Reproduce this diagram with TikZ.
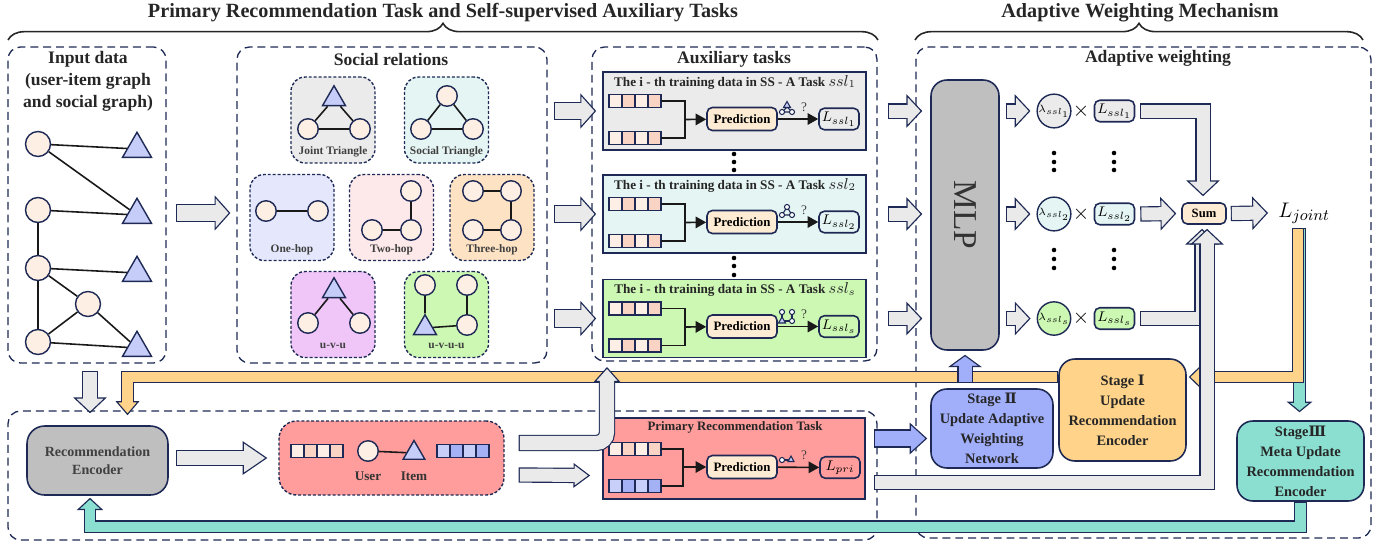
\documentclass[tikz,border=0pt]{standalone}
\usepackage{fontspec}
\setmainfont{Liberation Serif}
\newfontfamily\romfont{DejaVu Serif}
\usetikzlibrary{arrows.meta, shapes.geometric, decorations.pathreplacing, positioning, calc}

\definecolor{navy}{HTML}{1E2A55}
\definecolor{arrgray}{HTML}{EAEAEA}
\definecolor{mlpgray}{HTML}{BFBFBF}
\definecolor{taskgray}{HTML}{EBEBEB}
\definecolor{stcyan}{HTML}{E5F5F3}
\definecolor{ohblue}{HTML}{E5E8FC}
\definecolor{twpink}{HTML}{FDE8EA}
\definecolor{thorange}{HTML}{FDE3C4}
\definecolor{uvuviolet}{HTML}{F0C6F8}
\definecolor{uvuugreen}{HTML}{CDF8B3}
\definecolor{userfill}{HTML}{FDEFE3}
\definecolor{itemfill}{HTML}{C5CDF8}
\definecolor{barpeach}{HTML}{FDEEE6}
\definecolor{barpeachd}{HTML}{F9D3C3}
\definecolor{barblue}{HTML}{C8CFF8}
\definecolor{barblued}{HTML}{A5B1F5}
\definecolor{predfill}{HTML}{FDEBD3}
\definecolor{prired}{HTML}{FF9C9C}
\definecolor{stageblue}{HTML}{A1AEFA}
\definecolor{stageorange}{HTML}{FFD48A}
\definecolor{stageteal}{HTML}{8ADFD0}

\tikzset{
  outerbox/.style={draw=navy, line width=0.75pt, dash pattern=on 4.5pt off 2.8pt, rounded corners=7pt},
  relbox/.style={draw=navy, line width=0.8pt, dash pattern=on 1.7pt off 1.1pt, rounded corners=8pt, minimum width=1.68cm, minimum height=1.72cm},
  user/.style={circle, draw=navy, fill=userfill, line width=0.8pt, minimum size=0.5cm, inner sep=0pt},
  suser/.style={user, minimum size=0.41cm},
  item/.style={regular polygon, regular polygon sides=3, draw=navy, fill=itemfill, line width=0.8pt, minimum size=0.67cm, inner sep=0pt},
  sitem/.style={item, minimum size=0.53cm},
  gedge/.style={line width=0.9pt, black!90},
  bracket/.style={decorate, decoration={brace, amplitude=9.5pt}, line width=0.9pt, black!85},
  headtxt/.style={font=\fontsize{11.5}{13}\selectfont\bfseries, text=black!85},
  boxtitle/.style={font=\fontsize{10}{12.5}\selectfont\bfseries, text=black!85, align=center},
  rellabel/.style={font=\fontsize{6.5}{7}\selectfont\bfseries, text=black!75},
  taskbox/.style={draw=navy, line width=1pt, minimum width=5.26cm, minimum height=1.56cm},
  tasktitle/.style={font=\fontsize{7.5}{8}\selectfont\bfseries, text=black!85},
  predbox/.style={draw=navy, fill=predfill, line width=0.9pt, rounded corners=3pt, minimum width=1.4cm, minimum height=0.46cm, inner sep=0pt, font=\fontsize{7.3}{8}\selectfont\bfseries},
  lossbox/.style={draw=navy, line width=0.9pt, rounded corners=3pt, minimum width=0.8cm, minimum height=0.43cm, inner sep=0pt, font=\fontsize{8}{9}\selectfont},
  lamb/.style={circle, draw=navy, line width=0.8pt, minimum size=0.5cm, inner sep=0pt, font=\fontsize{6.5}{7}\selectfont},
  stagebox/.style={draw=navy, line width=0.9pt, rounded corners=9pt, align=center, inner sep=0pt, font=\fontsize{8.2}{11.4}\selectfont\bfseries, text=black!85},
  qmark/.style={font=\fontsize{7.5}{8}\selectfont, text=black!75},
  conn/.style={line width=0.9pt, black!90},
  connarr/.style={conn, -{Triangle[width=6.5pt, length=6pt]}},
}

% four-cell embedding bar: name, left x, centre y, two fills
\newcommand{\embbar}[5]{%
  \foreach \k/\fc in {0/#4,1/#5,2/#4,3/#5}
    \draw[navy, line width=0.7pt, fill=\fc] (#2+13*\k,#3-6.5) rectangle ++(13,13);
  \coordinate (#1) at (#2+52,#3);
}
% outlined block arrow: fill, shaft width, head width, head length, path
\newcommand{\blockarrow}[5]{%
  \draw[navy, line width=#2+1.3pt, -{Triangle[width=#3, length=#4, fill=#1, line width=0.65pt]}] #5;
  \draw[#1, line width=#2, shorten >=#4-1pt, shorten <=0.65pt] #5;
}

\begin{document}
\begin{tikzpicture}[x=0.02cm, y=-0.02cm]
\useasboundingbox (0,0) rectangle (1391,545);

% headers
\node[headtxt] (headL) at (443,13) {Primary Recommendation Task and Self-supervised Auxiliary Tasks};
\node[headtxt] (headR) at (1140,13) {Adaptive Weighting Mechanism};
\draw[bracket] (8,40) -- (878,40);
\draw[bracket] (915,40) -- (1363,40);

% dashed frames
\node[outerbox, minimum width=3.16cm, minimum height=6.32cm] (inbox) at (87,205) {};
\node[outerbox, minimum width=6.2cm, minimum height=6.32cm] (socbox) at (392,205) {};
\node[outerbox, minimum width=5.7cm, minimum height=6.28cm] (auxbox) at (734.5,204) {};
\node[outerbox, minimum width=9.1cm, minimum height=9.82cm] (adabox) at (1143.5,292.5) {};
\node[outerbox, minimum width=17.38cm, minimum height=2.58cm] (botbox) at (442.5,475.5) {};

\node[boxtitle] (intitle) at (88,81.5) {Input data\\(user-item graph\\and social graph)};
\node[boxtitle] (soctitle) at (391,59) {Social relations};
\node[boxtitle] (auxtitle) at (734,59) {Auxiliary tasks};
\node[boxtitle] (adatitle) at (1158,58) {Adaptive weighting};

% input graph
\node[user] (u1) at (38,144) {};
\node[user] (u2) at (38,210) {};
\node[user] (u3) at (38,268) {};
\node[user] (u4) at (88,304) {};
\node[user] (u5) at (38,342) {};
\node[item] (t1) at (137,149) {};
\node[item] (t2) at (137,215) {};
\node[item] (t3) at (137,273) {};
\node[item] (t4) at (137,348) {};
\draw[gedge] (u1)--(t1) (u1)--(t2) (u2)--(t2) (u2)--(u3) (u3)--(t3) (u3)--(u4)
  (u3)--(u5) (u4)--(u5) (u4)--(t4) (u5)--(t4);

% social relations
\node[relbox, fill=taskgray] (jt) at (333,120) {};
\node[sitem] (jta) at (334,99) {};
\node[suser] (jtb) at (308,129) {};
\node[suser] (jtc) at (360,129) {};
\draw[gedge] (jta)--(jtb) (jta)--(jtc) (jtb)--(jtc);
\node[rellabel] (jtlab) at (333,152) {Joint Triangle};

\node[relbox, fill=stcyan] (st) at (446.5,120) {};
\node[suser] (sta) at (447,96) {};
\node[suser] (stb) at (421,129) {};
\node[suser] (stc) at (473,129) {};
\draw[gedge] (sta)--(stb) (sta)--(stc) (stb)--(stc);
\node[rellabel] (stlab) at (446.5,152) {Social Triangle};

\node[relbox, fill=ohblue] (oh) at (292,217.5) {};
\node[suser] (oha) at (266,211) {};
\node[suser] (ohb) at (318,211) {};
\draw[gedge] (oha)--(ohb);
\node[rellabel] (ohlab) at (292,250) {One-hop};

\node[relbox, fill=twpink] (tw) at (391.5,217.5) {};
\node[suser] (twa) at (411,191) {};
\node[suser] (twb) at (411,230) {};
\node[suser] (twc) at (372,230) {};
\draw[gedge] (twa)--(twb) (twb)--(twc);
\node[rellabel] (twlab) at (391.5,250) {Two-hop};

\node[relbox, fill=thorange] (th) at (492,217.5) {};
\node[suser] (tha) at (473,191) {};
\node[suser] (thb) at (511,191) {};
\node[suser] (thc) at (511,230) {};
\node[suser] (thd) at (473,230) {};
\draw[gedge] (tha)--(thb) (thb)--(thc) (thc)--(thd);
\node[rellabel] (thlab) at (492,250) {Three-hop};

\node[relbox, fill=uvuviolet] (uvu) at (333,314.5) {};
\node[sitem] (uvua) at (334,291) {};
\node[suser] (uvub) at (308,323) {};
\node[suser] (uvuc) at (360,323) {};
\draw[gedge] (uvua)--(uvub) (uvua)--(uvuc);
\node[rellabel] (uvulab) at (333,346) {u-v-u};

\node[relbox, fill=uvuugreen] (uvuu) at (446.5,314.5) {};
\node[suser] (uvuua) at (425,285) {};
\node[suser] (uvuub) at (467,285) {};
\node[suser] (uvuuc) at (467,325) {};
\node[sitem] (uvuud) at (425,328) {};
\draw[gedge] (uvuua)--(uvuud) (uvuud)--(uvuuc) (uvuuc)--(uvuub);
\node[rellabel] (uvuulab) at (446.5,346) {u-v-u-u};

% auxiliary tasks
\foreach \i/\dy/\col/\s in {1/0/taskgray/1, 2/103/stcyan/2, 3/207.5/uvuugreen/s}{
\begin{scope}[shift={(0,\dy)}]
\node[taskbox, fill=\col] (task\i) at (734.5,111) {};
\node[tasktitle] (tt\i) at (735,82) {The i - th training data in SS - A Task {\fontsize{9}{9}\selectfont$ssl_{\s}$}};
\embbar{ea\i}{609}{101}{barpeach}{barpeachd}
\embbar{eb\i}{609}{138}{barpeach}{barpeachd}
\coordinate (ej\i) at (685,119.5);
\node[predbox] (pred\i) at (742,119) {Prediction};
\node[lossbox, fill=\col] (loss\i) at (839,119) {$L_{ssl_{\s}}$};
\draw[conn] (ea\i) -| (ej\i) |- (eb\i);
\draw[connarr] (ej\i) -- (pred\i);
\draw[connarr] (pred\i) -- (loss\i);
\node[qmark] (q\i) at (804,107) {?};
\end{scope}
}
% small pattern icons
\draw[navy, line width=0.6pt] (787,107) -- (782,112) (787,107) -- (792,112) (782,112) -- (792,112);
\draw[navy, line width=0.6pt, fill=itemfill] (787,101.5) -- (783.5,107.5) -- (790.5,107.5) -- cycle;
\draw[navy, line width=0.6pt, fill=white] (782,112) circle (1.45pt) (792,112) circle (1.45pt);
\draw[navy, line width=0.6pt] (787,207) -- (782,215) -- (792,215) -- cycle;
\draw[navy, line width=0.6pt, fill=white] (787,207) circle (1.45pt) (782,215) circle (1.45pt) (792,215) circle (1.45pt);
\draw[navy, line width=0.6pt] (782,312) -- (782,321) -- (792,321) -- (792,312);
\draw[navy, line width=0.6pt, fill=white] (782,312) circle (1.45pt) (792,312) circle (1.45pt) (792,321) circle (1.45pt);
\draw[navy, line width=0.6pt, fill=itemfill] (782,317) -- (778.5,323) -- (785.5,323) -- cycle;
\foreach \y in {154,162,170,258,266,275} \fill (734,\y) circle (1.3pt);

% adaptive weighting
\node[draw=navy, fill=mlpgray, line width=0.9pt, rounded corners=9pt, minimum width=1.36cm, minimum height=5.4cm] (mlp) at (965,215) {};
\node[rotate=-90, font=\fontsize{19}{19}\selectfont, text=black!80] (mlptxt) at (965,215) {MLP};
\node[predbox, minimum width=0.88cm, minimum height=0.42cm, font=\fontsize{7.2}{8}\selectfont\bfseries] (sum) at (1204,213.5) {Sum};
\node[anchor=west, inner sep=0pt, font=\fontsize{12.5}{13}\selectfont] (ljoint) at (1278,213) {$L_{joint}$};
\coordinate (jfork) at (1298,228);

\foreach \i/\y/\col/\s in {1/111/taskgray/1, 2/214/stcyan/2, 3/318.5/uvuugreen/s}{
\node[lamb, fill=\col] (lam\i) at (1054,\y) {$\lambda_{ssl_{\s}}$};
\node[font=\fontsize{12}{12}\selectfont] (times\i) at (1081,\y) {$\times$};
\node[lossbox, fill=\col] (w\i) at (1114.5,\y) {$L_{ssl_{\s}}$};
\blockarrow{arrgray}{9.5pt}{20pt}{9pt}{($(socbox.east |- task\i.west)+(6,0)$) -- ($(task\i.west)+(-6,0)$)}
\blockarrow{arrgray}{7.4pt}{19pt}{9pt}{($(auxbox.east |- task\i.west)+(10,0)$) -- ($(mlp.west |- task\i.west)+(-8,0)$)}
\blockarrow{arrgray}{7.4pt}{19pt}{9pt}{($(mlp.east |- lam\i.west)+(6,0)$) -- ($(lam\i.west)+(-6,0)$)}
}
\foreach \x in {1054,1114} \foreach \y in {153,162,170,250,259,268} \fill (\x,\y) circle (1.3pt);

\blockarrow{arrgray}{9.5pt}{20pt}{9pt}{($(inbox.east)+(9,8)$) -- ($(socbox.west)+(-6,8)$)}
\blockarrow{arrgray}{7.4pt}{19pt}{9pt}{($(w2.east)+(5,0)$) -- ($(sum.west)+(-5,0)$)}
\blockarrow{arrgray}{7.4pt}{19pt}{9pt}{($(w1.east)+(5,0)$) -| ($(sum.north)+(-1,-6)$)}
\blockarrow{arrgray}{7.4pt}{19pt}{9pt}{($(sum.east)+(4,0)$) -- ($(ljoint.west)+(-10,0)$)}

% bottom part
\node[stagebox, fill=mlpgray, minimum width=2.82cm, minimum height=1.38cm, rounded corners=10pt, text=black!75, font=\fontsize{8}{10.2}\selectfont\bfseries] (recenc) at (97.5,460.5) {Recommendation\\Encoder};
\node[relbox, fill=prired, minimum width=4.5cm, minimum height=1.48cm, rounded corners=10pt] (emb) at (391.5,458) {};
\embbar{ua}{291}{451}{barpeach}{barpeachd}
\node[suser] (eu) at (368,451) {};
\node[sitem, minimum size=0.5cm] (ei) at (414,453) {};
\draw[gedge] (eu) -- (ei);
\embbar{ub}{437}{451}{barblue}{barblued}
\node[font=\fontsize{7.5}{8}\selectfont\bfseries, text=black!80] (eulab) at (368,476) {User};
\node[font=\fontsize{7.5}{8}\selectfont\bfseries, text=black!80] (eilab) at (414,476) {Item};

\node[taskbox, fill=prired, minimum width=5.24cm, minimum height=1.62cm] (pri) at (734,458.5) {};
\node[tasktitle, font=\fontsize{7.3}{8}\selectfont\bfseries] (pritt) at (735,427) {Primary Recommendation Task};
\embbar{pa}{609}{449}{barpeach}{barpeachd}
\embbar{pb}{609}{486}{barblue}{barblued}
\coordinate (pj) at (683,467);
\node[predbox] (ppred) at (742,467) {Prediction};
\node[lossbox, fill=prired] (lpri) at (840,467.5) {$L_{pri}$};
\draw[conn] (pa) -| (pj) |- (pb);
\draw[connarr] (pj) -- (ppred);
\draw[connarr] (ppred) -- (lpri);
\node[qmark] (qp) at (804,455) {?};
\draw[navy, line width=0.6pt] (782,460) -- (791,460);
\draw[navy, line width=0.6pt, fill=white] (782,460) circle (1.45pt);
\draw[navy, line width=0.6pt, fill=itemfill] (791,456) -- (788,461.5) -- (794,461.5) -- cycle;

\node[stagebox, fill=stageblue, minimum width=2.44cm, minimum height=1.58cm] (stage2) at (992,428.5) {Stage {\romfont Ⅱ}\\Update Adaptive\\Weighting\\Network};
\node[stagebox, fill=stageorange, minimum width=2.54cm, minimum height=2.04cm] (stage1) at (1122.5,410) {Stage {\romfont Ⅰ}\\Update\\Recommendation\\Encoder};
\node[stagebox, fill=stageteal, minimum width=2.54cm, minimum height=1.6cm] (stage3) at (1300.5,461) {Stage{\romfont Ⅲ}\\Meta Update\\Recommendation\\Encoder};
\coordinate (auxin) at (607,367);

% feedback arrows
\blockarrow{stageteal}{6pt}{14.5pt}{6pt}{($(jfork)+(1.5,0)$) -- ($(stage3.north -| jfork)+(1.5,-8)$)}
\blockarrow{stageorange}{5.7pt}{13.5pt}{7pt}{(jfork) |- ($(stage1.east)+(2,-33)$)}
\blockarrow{stageorange}{5.7pt}{13.5pt}{8pt}{($(stage1.west)+(0,-33)$) -| ($(recenc.north)+(30,-10)$)}
\blockarrow{stageteal}{6pt}{15pt}{7pt}{(stage3.south) -- ++(0,25) -| ($(recenc.south)+(-7.5,2)$)}
\blockarrow{arrgray}{8pt}{19pt}{9pt}{($(inbox.south)+(3,7)$) -- ($(recenc.north)+(-7.5,-12)$)}
\blockarrow{arrgray}{8pt}{19pt}{14pt}{($(recenc.east |- emb.west)+(7,0)$) -- ($(emb.west)+(-11,0)$)}
\blockarrow{arrgray}{7.4pt}{14pt}{9.5pt}{($(emb.east)+(14,17)$) -- ($(pri.west)+(-12,17)$)}
\blockarrow{arrgray}{8pt}{15pt}{8.5pt}{[rounded corners=6pt] ($(emb.east)+(14,-15)$) -| (auxin)}
\blockarrow{stageblue}{7.4pt}{19pt}{7pt}{($(mlp.south |- stage2.north)+(0,-5)$) -- ($(mlp.south)+(0,4)$)}
\blockarrow{stageblue}{9pt}{18pt}{10pt}{($(pri.east)+(8,-20)$) -- ($(pri.east -| stage2.west)+(-3,-20)$)}
\blockarrow{arrgray}{7.4pt}{19pt}{9pt}{($(w3.east)+(5,0)$) -| ($(sum.south)+(-2,4)$)}
\blockarrow{arrgray}{7.4pt}{19pt}{9pt}{($(pri.east)+(8,24)$) -| ($(sum.south)+(3,4)$)}
\end{tikzpicture}
\end{document}
